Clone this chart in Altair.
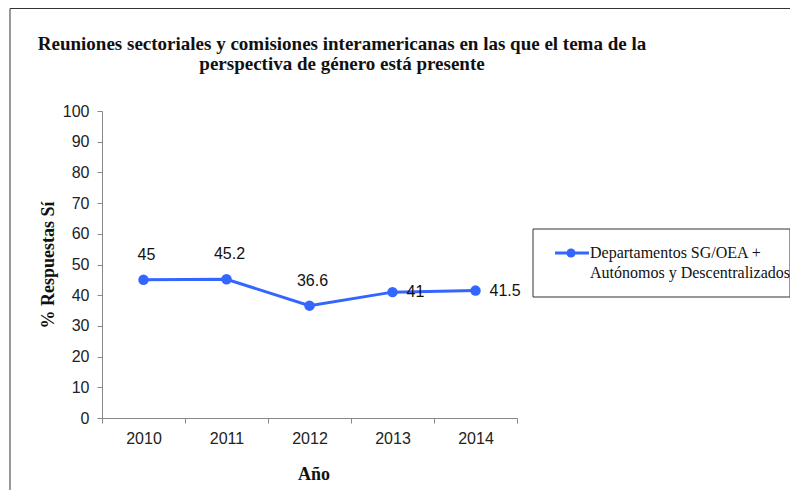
import altair as alt
import pandas as pd

years = [2010, 2011, 2012, 2013, 2014]
values = [45, 45.2, 36.6, 41, 41.5]
series_name = "Departamentos SG/OEA + Autónomos y Descentralizados"
legend_lines = ["Departamentos SG/OEA +", "Autónomos y Descentralizados"]
title_lines = ["Reuniones sectoriales y comisiones interamericanas en las  que el tema de la",
               "perspectiva de género está presente"]
y_ticks = list(range(0, 101, 10))
x_bounds = [2009.5, 2010.5, 2011.5, 2012.5, 2013.5, 2014.5]

BLUE = "#3366FF"
W, H = 415, 307

df = pd.DataFrame({"year": years, "value": values, "series": series_name})

xscale = alt.Scale(domain=[2009.5, 2014.5], nice=False, zero=False)
yscale = alt.Scale(domain=[0, 100], nice=False)

x_enc = alt.X("year:Q", scale=xscale,
              axis=alt.Axis(values=x_bounds, labelOffset=41.5, labelFlush=False,
                            labelOverlap=False,
                            labelExpr="datum.value < 2014 ? toString(datum.value + 0.5) : ''",
                            title="Año", titleY=56, titleBaseline="middle", titleX=W / 2 + 4,
                            tickSize=5, labelPadding=7, grid=False))
y_enc = alt.Y("value:Q", scale=yscale,
              axis=alt.Axis(values=y_ticks, title="% Respuestas Sí", tickSize=5,
                            labelPadding=8, grid=False, titleX=-54, titleBaseline="middle",
                            titleY=H / 2, labelOverlap=False, labelFlush=False,
                            labelSeparation=0, labelBound=False))

base = alt.Chart(df)

line = base.mark_line(color=BLUE, strokeWidth=3).encode(x=x_enc, y=y_enc)
pts = base.mark_circle(color=BLUE, size=110, opacity=1).encode(x=x_enc, y=y_enc)

lab_above = base.transform_filter("datum.year <= 2012").mark_text(
    dy=-25, dx=3, fontSize=16, font="Liberation Sans", color="#111", baseline="middle"
).encode(x=x_enc, y=y_enc, text=alt.Text("value:Q"))
lab_right = base.transform_filter("datum.year > 2012").mark_text(
    dx=14, align="left", fontSize=16, font="Liberation Sans", color="#111", baseline="middle"
).encode(x=x_enc, y=y_enc, text=alt.Text("value:Q"))

one = alt.Data(values=[{"k": 1}])

border = alt.Chart(one).mark_rect(filled=False, stroke="#333", strokeWidth=1).encode(
    x=alt.value(-92), x2=alt.value(900), y=alt.value(-102.5), y2=alt.value(600))

title = alt.Chart(one).mark_text(
    align="center", baseline="middle", font="Liberation Serif", fontSize=19,
    fontWeight="bold", color="#111", lineHeight=20
).encode(x=alt.value(240), y=alt.value(-67), text=alt.value(title_lines))

leg_box = alt.Chart(one).mark_rect(filled=False, stroke="#333", strokeWidth=1).encode(
    x=alt.value(431), x2=alt.value(688), y=alt.value(118), y2=alt.value(186))
leg_line = alt.Chart(one).mark_rule(color=BLUE, strokeWidth=3).encode(
    x=alt.value(453), x2=alt.value(487), y=alt.value(142))
leg_pt = alt.Chart(one).mark_circle(color=BLUE, size=80, opacity=1).encode(
    x=alt.value(469), y=alt.value(142))
leg_text = alt.Chart(one).mark_text(
    align="left", baseline="middle", font="Liberation Serif", fontSize=16,
    color="#111", lineHeight=20
).encode(x=alt.value(488), y=alt.value(142), text=alt.value(legend_lines))

chart = alt.layer(border, title, line, pts, lab_above, lab_right, leg_box, leg_line, leg_pt, leg_text).properties(
    width=W, height=H,
    autosize=alt.AutoSizeParams(type="none"),
    padding={"left": 94, "top": 103, "right": 273, "bottom": 72},
    background="white",
).configure_view(stroke=None).configure_axis(
    domainColor="#888", tickColor="#888", labelFont="Liberation Sans", labelFontSize=16,
    labelColor="#222", titleFont="Liberation Serif", titleFontSize=18, titleFontWeight="bold",
    titleColor="#111"
).configure_axisY(labelOverlap=False)

chart.save("out.html", embed_options={"renderer": "svg", "actions": False})
